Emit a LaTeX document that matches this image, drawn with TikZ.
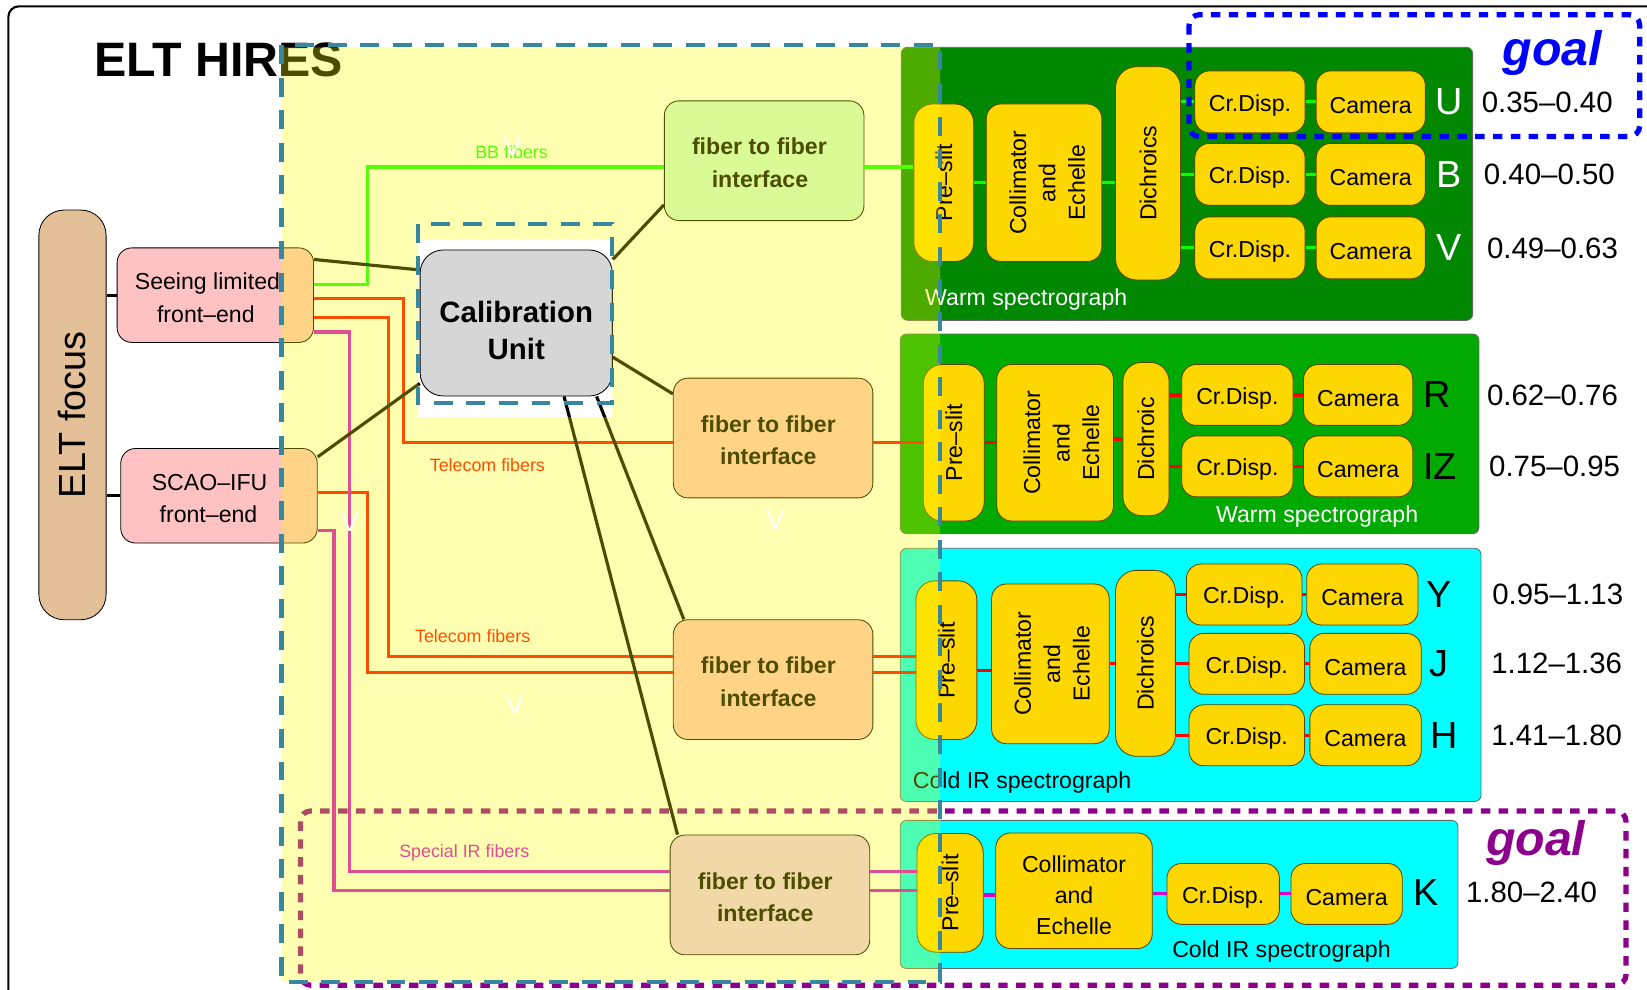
\documentclass[tikz,border=0pt]{standalone}
\usepackage{fontspec}
\setmainfont{Liberation Sans}
\definecolor{focusfill}{RGB}{228,192,152}
\definecolor{frontfill}{RGB}{255,194,194}
\definecolor{bbfill}{RGB}{203,249,214}
\definecolor{irfill}{RGB}{234,200,240}
\definecolor{calfill}{RGB}{214,214,214}
\definecolor{partfill}{RGB}{255,215,0}
\definecolor{partedge}{RGB}{90,70,0}
\definecolor{warmdark}{RGB}{0,136,0}
\definecolor{warmlight}{RGB}{0,170,0}
\definecolor{coldfill}{RGB}{0,255,255}
\definecolor{bbgreen}{RGB}{10,255,0}
\definecolor{telred}{RGB}{255,0,0}
\definecolor{irpink}{RGB}{210,0,210}
\definecolor{hirteal}{RGB}{55,135,160}
\definecolor{goalblue}{RGB}{0,0,255}
\definecolor{goalpurple}{RGB}{140,0,140}
\definecolor{veil}{RGB}{255,255,0}
% three stacked lines, turned upright
\newcommand{\colltext}[1]{\rotatebox{90}{\begin{tabular}{@{}c@{}}\rule{0pt}{#1}Collimator\\and\\Echelle\end{tabular}}}
\newcommand{\lift}[1]{\rule{0pt}{#1}}
\begin{document}
\begin{tikzpicture}[x=1pt, y=-1pt,
  hires box/.style={rounded corners=14pt, line width=0.8pt, inner sep=0pt, align=center},
  drop/.style={execute at begin node={\rule{0pt}{#1}}},
  front node/.style={hires box, draw=black, fill=frontfill, minimum width=187pt, minimum height=90pt, font=\fontsize{22}{31}\selectfont},
  fiber node/.style={hires box, draw=black, minimum width=190pt, minimum height=114pt, font=\bfseries\fontsize{22}{31}\selectfont},
  part node/.style={hires box, draw=partedge, fill=partfill, font=\fontsize{22}{28}\selectfont},
  flat part/.style={part node, drop=22pt},
  spec box/.style={draw=black!60, line width=0.8pt, rounded corners=6pt},
  spec label/.style={font=\fontsize{22}{22}\selectfont},
  band text/.style={font=\fontsize{36}{36}\selectfont},
  wl text/.style={font=\fontsize{28}{28}\selectfont},
  fiber label/.style={font=\fontsize{17}{17}\selectfont},
  cal line/.style={line width=3pt, black},
  bb line/.style={line width=3pt, bbgreen},
  tel line/.style={line width=3pt, telred},
  ir line/.style={line width=3pt, irpink},
  teal dash/.style={hirteal, line width=4pt, dash pattern=on 18pt off 13pt},
  goal box/.style={line width=5pt, dash pattern=on 9pt off 8pt, rounded corners=10pt},
  goal text/.style={font=\bfseries\itshape\fontsize{46}{46}\selectfont},
  vmark/.style={white, font=\fontsize{26}{26}\selectfont}]
\useasboundingbox (0,0) rectangle (1568,942);
\draw[line width=2pt, rounded corners=10pt] (8,1000) -- (8,6) -- (1600,6);
\node[font=\bfseries\fontsize{46}{46}\selectfont, anchor=west] (title) at (86,57) {ELT HIRES};

% warm spectrograph, U B V
\draw[spec box, fill=warmdark] (858,45) rectangle (1402,305);
\node[spec label, white] (warmAlabel) at (977,285) {Warm spectrograph};
\node[part node, minimum width=57pt, minimum height=150pt, rounded corners=18pt] (slitA) at (898.5,174) {\rotatebox{90}{Pre--slit}};
\node[part node, minimum width=110pt, minimum height=150pt] (collA) at (994,174) {\colltext{30pt}};
\node[part node, minimum width=62pt, minimum height=203pt, rounded corners=20pt] (dichA) at (1093,165) {\rotatebox{90}{Dichroics}};
\draw[bb line] (slitA) -- (collA);
\draw[bb line] (collA.east) -- (collA.east -| dichA.west);
\foreach \nm/\yy/\xx/\txt in {U/97/1473/0.35--0.40, B/166/1475/0.40--0.50, V/236/1478/0.49--0.63}{
  \node[flat part, minimum width=105pt, minimum height=59pt] (cross\nm) at (1190,\yy) {Cr.Disp.};
  \node[flat part, minimum width=104pt, minimum height=59pt] (cam\nm) at (1305,\yy) {Camera};
  \draw[bb line] (dichA.east |- cross\nm) -- (cross\nm);
  \draw[bb line] (cross\nm) -- (cam\nm);
  \node[band text, white] (band\nm) at (1380,\yy) {\nm};
  \node[wl text] (wl\nm) at (\xx,\yy) {\txt};
}

% warm spectrograph, R IZ
\draw[spec box, fill=warmlight] (857,318) rectangle (1408,508);
\node[spec label, white] (warmBlabel) at (1254,492) {Warm spectrograph};
\node[part node, minimum width=58pt, minimum height=149pt, rounded corners=18pt] (slitB) at (908,421.5) {\rotatebox{90}{Pre--slit}};
\node[part node, minimum width=111pt, minimum height=149pt] (collB) at (1004.5,421.5) {\colltext{36pt}};
\node[part node, minimum width=44pt, minimum height=146pt, rounded corners=18pt] (dichB) at (1091,418) {\rotatebox{90}{Dichroic}};
\draw[tel line] (slitB) -- (collB);
\draw[tel line] (collB.east |- dichB) -- (dichB);
\foreach \nm/\yy/\bx/\xx/\txt in {R/376/1368/1478/0.62--0.76, IZ/444/1371/1480/0.75--0.95}{
  \node[flat part, minimum width=106pt, minimum height=58pt] (cross\nm) at (1178,\yy) {Cr.Disp.};
  \node[flat part, minimum width=104pt, minimum height=58pt] (cam\nm) at (1293,\yy) {Camera};
  \draw[tel line] (dichB.east |- cross\nm) -- (cross\nm);
  \draw[tel line] (cross\nm) -- (cam\nm);
  \node[band text] (band\nm) at (\bx,\yy) {\nm};
  \node[wl text] (wl\nm) at (\xx,\yy) {\txt};
}

% cold IR spectrograph, Y J H
\draw[spec box, fill=coldfill] (857,522) rectangle (1410,763);
\node[spec label] (coldAlabel) at (973,745) {Cold IR spectrograph};
\node[part node, minimum width=58pt, minimum height=151pt, rounded corners=18pt] (slitC) at (901,628.5) {\rotatebox{90}{Pre--slit}};
\node[part node, minimum width=112pt, minimum height=152pt] (collC) at (1000,632) {\colltext{27pt}};
\node[part node, minimum width=57pt, minimum height=177pt, rounded corners=20pt] (dichC) at (1090.5,631.5) {\rotatebox{90}{Dichroics}};
\draw[tel line] (slitC.east |- 0,638) -- (collC.west |- 0,638);
\draw[tel line] (collC.east |- 0,632) -- (dichC.west |- 0,632);
\foreach \nm/\yy/\cx/\mx/\bx/\xx/\txt in {Y/566/1184.5/1297/1370/1483/0.95--1.13, J/632/1187/1300/1370/1482/1.12--1.36, H/700/1187/1300/1375/1482/1.41--1.80}{
  \node[flat part, minimum width=110pt, minimum height=58pt] (cross\nm) at (\cx,\yy) {Cr.Disp.};
  \node[flat part, minimum width=106pt, minimum height=58pt] (cam\nm) at (\mx,\yy) {Camera};
  \draw[tel line] (dichC.east |- cross\nm) -- (cross\nm);
  \draw[tel line] (cross\nm) -- (cam\nm);
  \node[band text] (band\nm) at (\bx,\yy) {\nm};
  \node[wl text] (wl\nm) at (\xx,\yy) {\txt};
}

% cold IR spectrograph, K
\draw[spec box, fill=coldfill] (857,781) rectangle (1388,922);
\node[spec label] (coldBlabel) at (1220,906) {Cold IR spectrograph};
\node[part node, minimum width=63pt, minimum height=113pt, rounded corners=18pt] (slitD) at (904.5,850) {\rotatebox{90}{Pre--slit}};
\node[part node, minimum width=149pt, minimum height=110pt, font=\fontsize{22}{29.5}\selectfont] (collD) at (1022.5,848) {\lift{24pt}Collimator\\and\\Echelle};
\node[flat part, minimum width=107pt, minimum height=58pt] (crossK) at (1164.5,851) {Cr.Disp.};
\node[flat part, minimum width=106pt, minimum height=58pt] (camK) at (1282,851) {Camera};
\draw[ir line] (slitD.east |- 0,852) -- (collD.west |- 0,852);
\draw[ir line] (collD.east |- crossK) -- (crossK);
\draw[ir line] (crossK) -- (camK);
\node[band text] (bandK) at (1358,850) {K};
\node[wl text] (wlK) at (1458,850) {1.80--2.40};

% front ends, calibration, fiber interfaces
\node[hires box, draw=black, fill=focusfill, minimum width=64pt, minimum height=390pt, rounded corners=24pt, font=\fontsize{36}{36}\selectfont] (focus) at (69,395) {\rotatebox{90}{ELT focus}};
\node[front node] (seeing) at (205,281) {\lift{21pt}Seeing limited\hspace*{15pt}\\front--end\hspace*{18pt}};
\node[front node] (scao) at (208.5,472) {\lift{21pt}SCAO--IFU\hspace*{18pt}\\front--end\hspace*{20pt}};
\node[hires box, draw=black, fill=calfill, minimum width=183pt, minimum height=139pt, rounded corners=22pt, font=\bfseries\fontsize{28}{35}\selectfont] (calib) at (491.5,307.5) {\lift{34pt}Calibration\\Unit};
\node[fiber node, fill=bbfill] (fibA) at (727.5,153) {\lift{20pt}fiber to fiber\hspace*{9pt}\\interface\hspace*{8pt}};
\node[fiber node, fill=frontfill] (fibB) at (736,417) {\lift{20pt}fiber to fiber\hspace*{9pt}\\interface\hspace*{9pt}};
\node[fiber node, fill=frontfill] (fibC) at (736,647) {\lift{20pt}fiber to fiber\hspace*{9pt}\\interface\hspace*{9pt}};
\node[fiber node, fill=irfill] (fibD) at (733,852) {\lift{20pt}fiber to fiber\hspace*{9pt}\\interface\hspace*{9pt}};

\draw[line width=3pt] (focus.east |- seeing) -- (seeing);
\draw[line width=3pt] (focus.east |- scao) -- (scao);

% fibers
\draw[bb line] (seeing.east |- 0,271) -| (350,159) -- (fibA.west |- 0,159);
\draw[bb line] (fibA.east |- 0,159) -- (slitA.west |- 0,159);
\draw[tel line] (seeing.east |- 0,284) -| (384,421) -- (fibB.west |- 0,421);
\draw[tel line] (fibB.east |- 0,421) -- (slitB.west |- 0,421);
\draw[tel line] (seeing.east |- 0,302) -| (370,625) -- (fibC.west |- 0,625);
\draw[tel line] (scao.east |- 0,469) -| (350,640) -- (fibC.west |- 0,640);
\draw[tel line] (fibC.east |- 0,625) -- (slitC.west |- 0,625);
\draw[tel line] (fibC.east |- 0,640) -- (slitC.west |- 0,640);
\draw[ir line] (seeing.east |- 0,316) -| (333,830) -- (fibD.west |- 0,830);
\draw[ir line] (scao.east |- 0,505) -| (318,848) -- (fibD.west |- 0,848);
\draw[ir line] (fibD.east |- 0,830) -- (slitD.west |- 0,830);
\draw[ir line] (fibD.east |- 0,848) -- (slitD.west |- 0,848);

% calibration links
\draw[cal line] (seeing.east |- 0,247) -- (calib.west |- 0,257);
\draw[cal line] (scao.east |- 0,435) -- (calib.west |- 0,365);
\draw[cal line] (calib.east |- 0,247) -- (fibA.west |- 0,195);
\draw[cal line] (calib.east |- 0,340) -- (fibB.west |- 0,375);
\draw[cal line] (calib.south -| 568,0) -- (fibC.north -| 651,0);
\draw[cal line] (calib.south -| 537,0) -- (fibD.north -| 645,0);

\node[fiber label, bbgreen] (bblabel) at (487,145) {BB fibers};
\node[fiber label, telred] (tellabelA) at (464,443) {Telecom fibers};
\node[fiber label, telred] (tellabelB) at (450,606) {Telecom fibers};
\node[fiber label, irpink] (irlabel) at (442,812) {Special IR fibers};

\draw[goal box, goalpurple] (286,772) rectangle (1548,938);

% HIRES scope
\fill[veil, opacity=0.3, even odd rule] (268,45) rectangle (895,935) (398,228) rectangle (583,397);
\draw[teal dash] (398,213) rectangle (583,384);
\draw[teal dash] (268,43) rectangle (895,935);

\draw[goal box, goalblue] (1132,14) rectangle (1561,130);
\node[goal text, goalblue] (goalU) at (1478,50) {goal};
\node[goal text, goalpurple] (goalK) at (1462,803) {goal};

\node[vmark] (vmarkA) at (488,140) {V};
\node[vmark] (vmarkB) at (333,497) {V};
\node[vmark] (vmarkC) at (738,495) {V};
\node[vmark] (vmarkD) at (490,671) {V};
\end{tikzpicture}
\end{document}
